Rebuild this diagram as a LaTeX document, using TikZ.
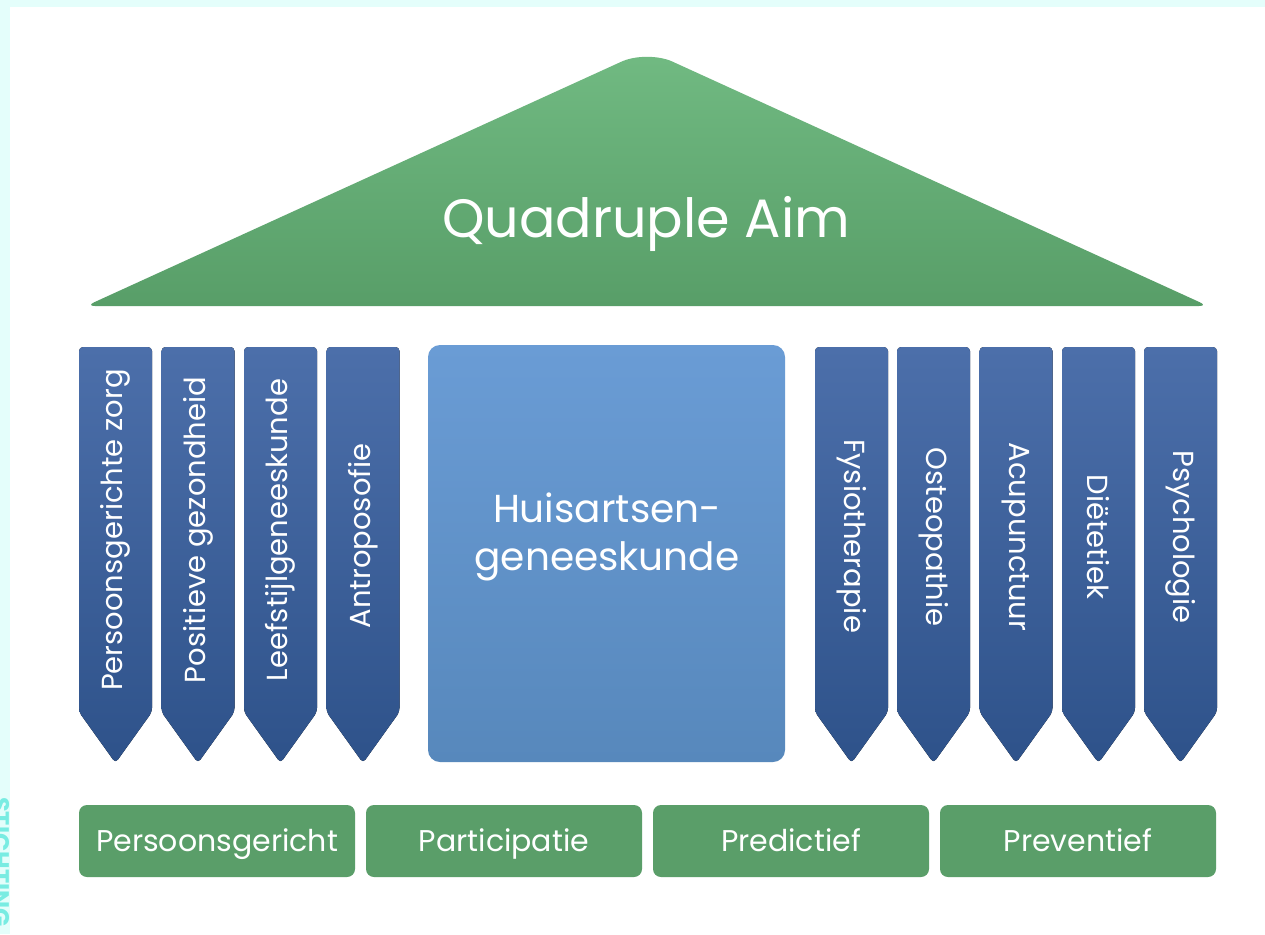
\documentclass[tikz,border=0pt]{standalone}
\usepackage{fontspec}
\setmainfont{Poppins}
\usetikzlibrary{positioning}
\definecolor{bandcyan}{RGB}{228,254,251}
\definecolor{stampcyan}{RGB}{120,236,226}
\definecolor{rooftop}{RGB}{113,186,130}
\definecolor{roofbot}{RGB}{88,158,104}
\definecolor{pillartop}{RGB}{76,111,170}
\definecolor{pillarbot}{RGB}{46,82,138}
\definecolor{blocktop}{RGB}{106,156,213}
\definecolor{blockbot}{RGB}{87,136,188}
\definecolor{basegreen}{RGB}{90,158,105}
\tikzset{
    %Define style for the roof
    roof/.style={
           top color=rooftop,
           bottom color=roofbot},
    %Define style for the pillars
    pillar/.style={
           top color=pillartop,
           bottom color=pillarbot,
           rounded corners=4pt},
    pillarlabel/.style={
           text=white,
           inner sep=0pt,
           font=\fontsize{29}{34}\selectfont},
    % Define style for the middle block
    block/.style={
           rectangle,
           rounded corners=12pt,
           top color=blocktop,
           bottom color=blockbot,
           minimum width=357pt,
           minimum height=417pt},
    blocklabel/.style={
           text=white,
           align=center,
           inner sep=0pt,
           font=\fontsize{39}{48}\selectfont},
    % Define style for the foundation
    base/.style={
           rectangle,
           rounded corners=8pt,
           fill=basegreen,
           text=white,
           outer sep=0pt,
           text height=21pt,
           text depth=0pt,
           minimum width=276pt,
           minimum height=72pt,
           font=\fontsize{30}{34}\selectfont}
}
\begin{document}
\begin{tikzpicture}[x=1pt,y=1pt,node distance=11pt]
\useasboundingbox (0,0) rectangle (1265,-934);
\fill[white] (0,0) rectangle (1265,-934);

% frame
\fill[bandcyan] (0,0) rectangle (1265,-7);
\fill[bandcyan] (0,0) rectangle (10,-934);
\begin{scope}
\clip (0,0) rectangle (10,-934);
\node[rotate=-90, anchor=base west, inner sep=0pt, text=stampcyan, font=\fontsize{24}{24}\selectfont\bfseries] (stamp) at (-8,-797) {STICHTING};
\end{scope}

% roof
\shade[roof] (86,-306) [rounded corners=28pt] -- (647,-50) [rounded corners=9pt] -- (1208,-306) -- cycle;
\node[text=white, font=\fontsize{54}{58}\selectfont] (aim) at (646,-224) {Quadruple Aim};

% left pillars
\fill[pillar] (79,-347) -- ++(73,0) -- ++(0,-365) -- ++(-36.5,-51) -- ++(-36.5,51) -- cycle;
\fill[pillar] (161.5,-347) -- ++(73,0) -- ++(0,-365) -- ++(-36.5,-51) -- ++(-36.5,51) -- cycle;
\fill[pillar] (244,-347) -- ++(73,0) -- ++(0,-365) -- ++(-36.5,-51) -- ++(-36.5,51) -- cycle;
\fill[pillar] (326.5,-347) -- ++(73,0) -- ++(0,-365) -- ++(-36.5,-51) -- ++(-36.5,51) -- cycle;
\node[pillarlabel, rotate=90] (zorg) at (115.5,-530) {Persoonsgerichte zorg};
\node[pillarlabel, rotate=90] (gezond) at (198,-530) {Positieve gezondheid};
\node[pillarlabel, rotate=90] (leefstijl) at (280.5,-530) {Leefstijlgeneeskunde};
\node[pillarlabel, rotate=90] (antro) at (363,-536) {Antroposofie};

% middle block
\node[block] (huis) at (606.5,-553.5) {};
\node[blocklabel] (huislabel) at (607,-537) {Huisartsen-\\geneeskunde};

% right pillars
\fill[pillar] (815,-347) -- ++(73,0) -- ++(0,-365) -- ++(-36.5,-51) -- ++(-36.5,51) -- cycle;
\fill[pillar] (897,-347) -- ++(73,0) -- ++(0,-365) -- ++(-36.5,-51) -- ++(-36.5,51) -- cycle;
\fill[pillar] (979.5,-347) -- ++(73,0) -- ++(0,-365) -- ++(-36.5,-51) -- ++(-36.5,51) -- cycle;
\fill[pillar] (1062,-347) -- ++(73,0) -- ++(0,-365) -- ++(-36.5,-51) -- ++(-36.5,51) -- cycle;
\fill[pillar] (1144,-347) -- ++(73,0) -- ++(0,-365) -- ++(-36.5,-51) -- ++(-36.5,51) -- cycle;
\node[pillarlabel, rotate=-90] (fysio) at (851.5,-536) {Fysiotherapie};
\node[pillarlabel, rotate=-90] (osteo) at (933.5,-537) {Osteopathie};
\node[pillarlabel, rotate=-90] (acu) at (1016,-537) {Acupunctuur};
\node[pillarlabel, rotate=-90] (dieet) at (1098.5,-537) {Diëtetiek};
\node[pillarlabel, rotate=-90] (psych) at (1180.5,-537) {Psychologie};

% foundation
\node[base] (p1) at (217,-841) {Persoonsgericht};
\node[base, right=of p1] (p2) {Participatie};
\node[base, right=of p2] (p3) {Predictief};
\node[base, right=of p3] (p4) {Preventief};
\end{tikzpicture}
\end{document}
